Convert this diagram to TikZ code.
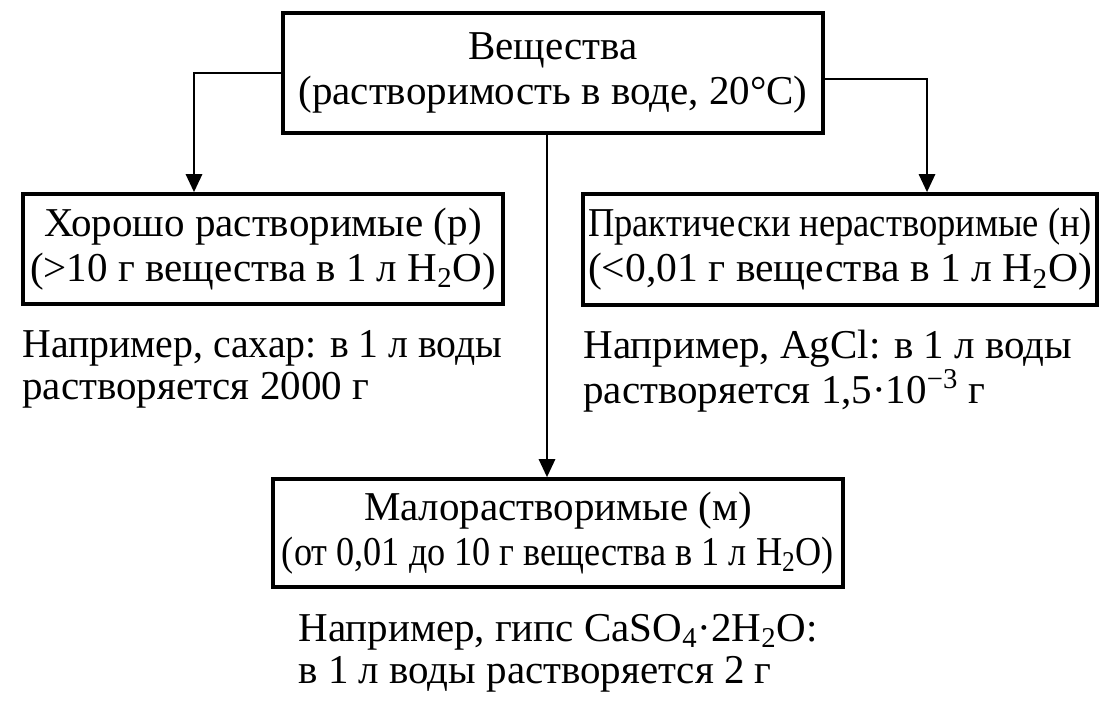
\documentclass[tikz,border=0pt]{standalone}
\usepackage{graphicx}
\usepackage{fontspec}
\setmainfont{Liberation Serif}
\usetikzlibrary{arrows.meta,positioning}
\newcommand{\boxfont}{\fontsize{20.5}{22.5}\selectfont}
\newcommand{\notefont}{\fontsize{20.5}{21}\selectfont}
\newcommand{\fitline}[2]{\resizebox{#1}{\height}{#2}}

\begin{document}
\begin{tikzpicture}[x=0.5pt, y=-0.5pt,
    box/.style={draw, line width=1.8pt, align=center, font=\boxfont, inner sep=0pt},
    note/.style={align=left, font=\notefont, inner sep=0pt, anchor=north west},
    arr/.style={line width=1.4pt, -{Triangle[width=8pt,length=9pt]}}]
  \useasboundingbox (0,0) rectangle (1112,703);
  \node[box, minimum width=270pt, minimum height=60pt] (subst) at (553,73)
    {Вещества\\(растворимость в воде, 20°C)};
  \node[box, minimum width=240pt, minimum height=55pt] (good) at (263,249)
    {Хорошо растворимые (р)\\(>10 г вещества в 1 л H\textsubscript{2}O)};
  \node[box, minimum width=257pt, minimum height=55.5pt] (insol) at (840,249.5)
    {\fitline{252pt}{Практически нерастворимые (н)}\\\fitline{252pt}{(<0,01 г вещества в 1 л H\textsubscript{2}O)}};
  \node[box, minimum width=285pt, minimum height=54pt] (slight) at (558,533)
    {Малорастворимые (м)\\\fitline{276pt}{(от 0,01 до 10 г вещества в 1 л H\textsubscript{2}O)}};
  % examples
  \node[note] (goodex) at (22,330) {\fitline{240pt}{Например, сахар: в 1 л воды}\\растворяется 2000 г};
  \node[note] (insolex) at (583,330) {Например, AgCl: в 1 л воды\\растворяется 1,5·10\textsuperscript{−3} г};
  \node[note] (slightex) at (298,614) {Например, гипс CaSO\textsubscript{4}·2H\textsubscript{2}O:\\в 1 л воды растворяется 2 г};
  \draw[arr] (subst.west) -| ([xshift=-34.5pt]good.north);
  \draw[arr] ([yshift=-3pt]subst.east) -| ([xshift=43.5pt]insol.north);
  \draw[arr] ([xshift=-3pt]subst.south) -- ([xshift=-3pt]subst.south |- slight.north);
\end{tikzpicture}
\end{document}
